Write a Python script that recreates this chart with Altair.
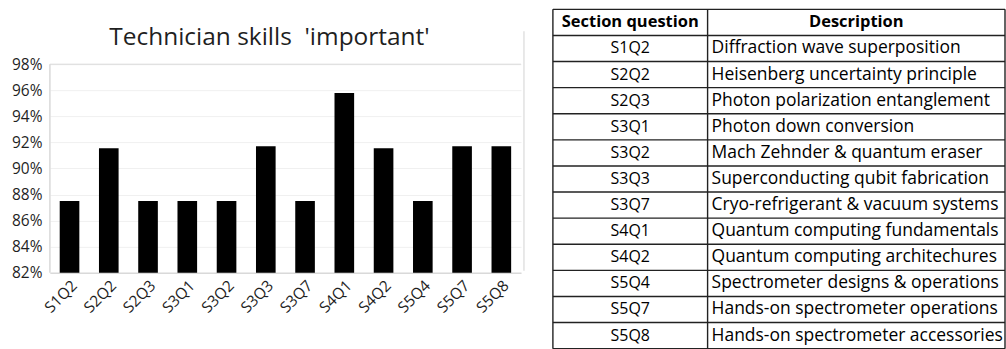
import altair as alt
import pandas as pd

# ---- data ----
codes = ["S1Q2", "S2Q2", "S2Q3", "S3Q1", "S3Q2", "S3Q3",
         "S3Q7", "S4Q1", "S4Q2", "S5Q4", "S5Q7", "S5Q8"]
values = [0.875, 0.9155, 0.875, 0.875, 0.875, 0.917,
          0.875, 0.958, 0.9155, 0.875, 0.917, 0.917]
descriptions = [
    "Diffraction wave superposition",
    "Heisenberg uncertainty principle",
    "Photon polarization entanglement",
    "Photon down conversion",
    "Mach Zehnder & quantum eraser",
    "Superconducting qubit fabrication",
    "Cryo-refrigerant & vacuum systems",
    "Quantum computing fundamentals",
    "Quantum computing architechures",
    "Spectrometer designs & operations",
    "Hands-on spectrometer operations",
    "Hands-on spectrometer accessories",
]
header = ["Section question", "Description"]
tick_values = [0.82, 0.84, 0.86, 0.88, 0.90, 0.92, 0.94, 0.96, 0.98]
title_text = "Technician skills\u00a0 'important'"

FONT = "Open Sans"
TXT = "#1f1f1f"

bars_df = pd.DataFrame({"code": codes, "value": values})

# ---- bar chart ----
yscale = alt.Scale(domain=[0.82, 1.0221], nice=False, zero=False)
y_axis = alt.Axis(values=tick_values, format=".0%", labelFontSize=15.5,
                  labelFont=FONT, labelColor=TXT, ticks=False,
                  domain=False, gridColor="#f0f0f0", labelOverlap=False,
                  labelPadding=8, minExtent=50, maxExtent=50)
base = alt.Chart(bars_df)
bars = base.mark_bar(color="black").encode(
    x=alt.X("code:N", sort=codes, title=None,
            scale=alt.Scale(paddingInner=0.5, paddingOuter=0.25),
            axis=alt.Axis(labelAngle=-45, labelFontSize=15.5, labelFont=FONT,
                          labelColor=TXT, ticks=False, domainColor="#d9d9d9",
                          domainWidth=1.5, labelPadding=5)),
    y=alt.Y("value:Q", scale=yscale, title=None, axis=y_axis),
    y2=alt.datum(0.82),
)
left_line = alt.Chart(pd.DataFrame({"a": [0]})).mark_rule(
    color="#d9d9d9", strokeWidth=1.5
).encode(x=alt.value(0), y=alt.Y(datum=0.98, scale=yscale, axis=y_axis, title=None),
         y2=alt.datum(0.82))
top_line = alt.Chart(pd.DataFrame({"a": [0]})).mark_rule(
    color="#d9d9d9", strokeWidth=1
).encode(y=alt.Y(datum=0.98, scale=yscale, axis=y_axis, title=None),
         x=alt.value(0), x2=alt.value(472))
title_mark = alt.Chart(pd.DataFrame({"t": [title_text]})).mark_text(
    font=FONT, fontSize=24.5, color=TXT, align="center", baseline="middle"
).encode(text="t:N", x=alt.value(220), y=alt.value(29))
frame = alt.Chart(pd.DataFrame({"a": [0]})).mark_rule(
    color="#d9d9d9", strokeWidth=1.2
).encode(x=alt.value(475), y=alt.value(22), y2=alt.value(262))

bar_chart = alt.layer(bars, left_line, top_line, title_mark, frame).properties(
    width=472, height=264)

# ---- table ----
rows = pd.DataFrame({
    "mid": [i + 0.5 for i in range(len(codes) + 1)],
    "code": [header[0]] + codes,
    "desc": [header[1]] + descriptions,
    "head": [True] + [False] * len(codes),
})
lines = pd.DataFrame({"line": list(range(len(codes) + 2))})
tyscale = alt.Scale(domain=[0, len(codes) + 1], range=[0, 340])
TW, C1 = 453, 155

hlines = alt.Chart(lines).mark_rule(color="#222222", strokeWidth=1.4).encode(
    y=alt.Y("line:Q", scale=tyscale, axis=None),
    x=alt.value(0), x2=alt.value(TW))
vl = [alt.Chart(pd.DataFrame({"a": [0]})).mark_rule(
    color="#222222", strokeWidth=1.4).encode(
    x=alt.value(xv), y=alt.value(0), y2=alt.value(340)) for xv in (0, C1, TW)]

def txt(field, xpos, align, head, size):
    return alt.Chart(rows).transform_filter(
        "datum.head" if head else "!datum.head"
    ).mark_text(font=FONT, fontSize=size, color="black", align=align,
                baseline="middle", fontWeight="bold" if head else "normal").encode(
        y=alt.Y("mid:Q", scale=tyscale, axis=None),
        x=alt.value(xpos), text=f"{field}:N")

table = alt.layer(
    hlines, *vl,
    txt("code", C1 / 2, "center", True, 16.5),
    txt("desc", (C1 + TW) / 2, "center", True, 16.5),
    txt("code", C1 / 2, "center", False, 16),
    txt("desc", C1 + 4, "left", False, 17.5),
).properties(width=TW, height=340)

chart = alt.hconcat(bar_chart, table, spacing=27).properties(
    padding={"left": 0, "top": 8, "right": 0, "bottom": 0},
    background="white",
).configure_view(stroke="transparent", strokeWidth=0)

chart.save("out.html", embed_options={"renderer": "svg", "actions": False})
